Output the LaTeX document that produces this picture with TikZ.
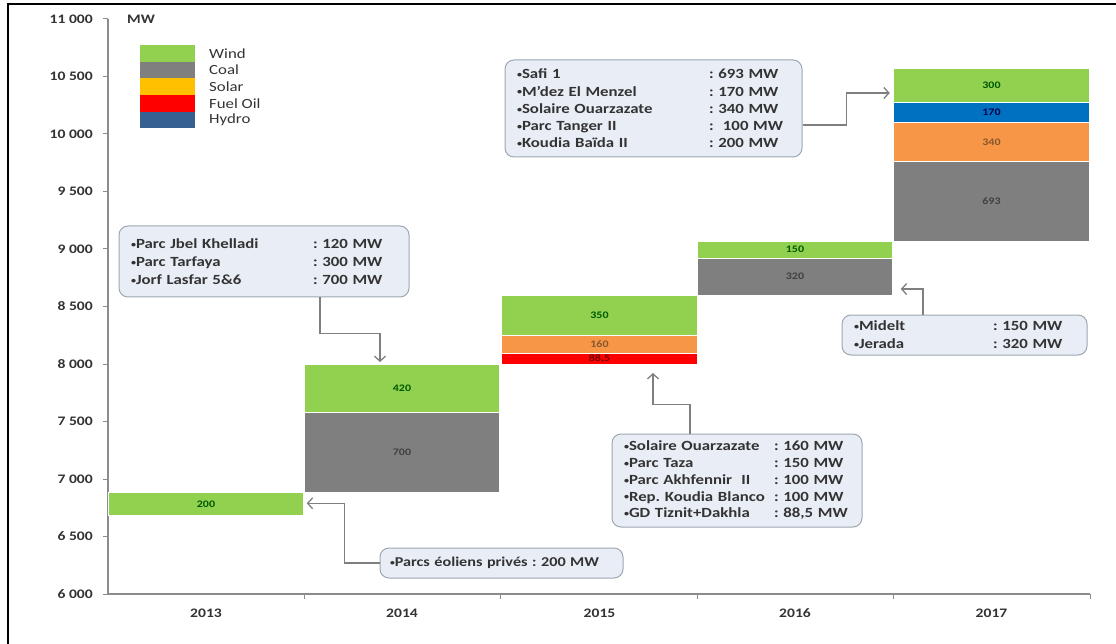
\documentclass[tikz,border=0pt]{standalone}
\usepackage{graphicx}
\usepackage{fontspec}
\setmainfont{Carlito}[FakeStretch=1.2]
\usetikzlibrary{arrows.meta}
\frenchspacing

\definecolor{wind}{HTML}{92D050}
\definecolor{coal}{HTML}{7F7F7F}
\definecolor{solar}{HTML}{FFC000}
\definecolor{solarbar}{HTML}{F79646}
\definecolor{fueloil}{HTML}{FF0000}
\definecolor{hydro}{HTML}{366092}
\definecolor{hydrobar}{HTML}{0070C0}
\definecolor{boxfill}{HTML}{E9EEF6}
\definecolor{boxline}{HTML}{9DA6B1}
\definecolor{axisgray}{HTML}{8C8C8C}
\definecolor{arrowgray}{HTML}{7F7F7F}
\definecolor{labtext}{HTML}{333333}

\newcommand\bul{\raisebox{0.2ex}{\scalebox{0.6}{\textbullet}}}
\newcommand\plant[3]{\makebox[#1][l]{\bul#2}\mbox{#3}}

\tikzset{
	bar/.style={draw=white, line width=0.8pt, minimum width=195.5pt, inner sep=0pt, outer sep=0pt,
		font=\fontsize{10}{10}\selectfont\bfseries},
	swatch/.style={minimum width=55pt, minimum height=16.6pt, inner sep=0pt, outer sep=0pt},
	legtext/.style={anchor=west, inner sep=0pt, text=labtext, font=\fontsize{14}{14}\selectfont},
	ticklabel/.style={anchor=east, inner sep=0pt, text=labtext, font=\fontsize{13}{13}\selectfont\bfseries},
	callout/.style={draw=boxline, fill=boxfill, line width=1pt, rounded corners=9pt, inner xsep=12pt,
		inner ysep=0pt, align=left, text=labtext},
	callarrow/.style={draw=arrowgray, line width=1.3pt, -{Straight Barb[length=5pt,width=11pt]}},
}

\begin{document}
\begin{tikzpicture}[x=1pt,y=-1pt]
	\useasboundingbox (0,0) rectangle (1116,644);
	
	% Frame and axes
	\draw[line width=1.2pt] (8,644) -- (8,4) -- (1116,4);
	\draw[axisgray, line width=1.2pt] (108,19) -- (108,594) -- (1090,594);
	\foreach \lab [count=\i from 0] in {6 000,6 500,7 000,7 500,8 000,8 500,9 000,9 500,10 000,10 500,11 000} {
		\draw[axisgray, line width=1pt] (103,{594-57.5*\i}) -- (108,{594-57.5*\i});
		\node[ticklabel] (tick\i) at (93,{594-57.5*\i}) {\lab};
	}
	\foreach \x in {304,500,697,893,1090}
		\draw[axisgray, line width=1pt] (\x,594) -- (\x,599);
	\node[ticklabel, anchor=west] (unit) at (127,19) {MW};
	
	% Years
	\node[ticklabel, anchor=center] (yr13) at (206,613) {2013};
	\node[ticklabel, anchor=center] (yr14) at (402,613) {2014};
	\node[ticklabel, anchor=center] (yr15) at (599.5,613) {2015};
	\node[ticklabel, anchor=center] (yr16) at (795,613) {2016};
	\node[ticklabel, anchor=center] (yr17) at (991.5,613) {2017};
	
	% Bars
	\node[bar, fill=wind, text=green!35!black, minimum height=23pt] (b13w) at (206,504.3) {200};
	\node[bar, fill=coal, text=black!75, minimum height=80.5pt] (b14c) at (402,452.5) {700};
	\node[bar, fill=wind, text=green!35!black, minimum height=48.3pt] (b14w) at (402,388.2) {420};
	\node[bar, fill=fueloil, text=red!45!black, minimum height=10.2pt] (b15f) at (599.5,358.9) {88,5};
	\node[bar, fill=solarbar, text=brown!70!black, minimum height=18.4pt] (b15s) at (599.5,344.6) {160};
	\node[bar, fill=wind, text=green!35!black, minimum height=40.2pt] (b15w) at (599.5,315.3) {350};
	\node[bar, fill=coal, text=black!75, minimum height=36.8pt] (b16c) at (795,276.6) {320};
	\node[bar, fill=wind, text=green!35!black, minimum height=17.2pt] (b16w) at (795,249.6) {150};
	\node[bar, fill=coal, text=black!75, minimum height=79.7pt] (b17c) at (991.5,201.2) {693};
	\node[bar, fill=solarbar, text=brown!70!black, minimum height=39.1pt] (b17s) at (991.5,141.8) {340};
	\node[bar, fill=hydrobar, text=blue!30!black, minimum height=19.6pt] (b17h) at (991.5,112.4) {170};
	\node[bar, fill=wind, text=green!35!black, minimum height=34.5pt] (b17w) at (991.5,85.4) {300};
	
	% Legend
	\node[swatch, fill=wind] (lgwind) at (167.5,53.5) {};
	\node[swatch, fill=coal] (lgcoal) at (167.5,70.1) {};
	\node[swatch, fill=solar] (lgsolar) at (167.5,86.7) {};
	\node[swatch, fill=fueloil] (lgfuel) at (167.5,103.3) {};
	\node[swatch, fill=hydro] (lghydro) at (167.5,119.9) {};
	\node[legtext] (txwind) at (209,53.5) {Wind};
	\node[legtext] (txcoal) at (209,70.1) {Coal};
	\node[legtext] (txsolar) at (209,86.7) {Solar};
	\node[legtext] (txfuel) at (209,103.3) {Fuel Oil};
	\node[legtext] (txhydro) at (209,119.9) {Hydro};
	
	% Callouts
	\node[callout, text width=266pt, minimum height=71pt, font=\fontsize{14}{18}\selectfont\bfseries] (box14) at (264,261.5) {%
		\plant{182pt}{Parc Jbel Khelladi}{: 120 MW}\\
		\plant{182pt}{Parc Tarfaya}{: 300 MW}\\
		\plant{182pt}{Jorf Lasfar 5\&6}{: 700 MW}};
	\node[callout, text width=273pt, minimum height=97pt, font=\fontsize{14}{17.25}\selectfont\bfseries] (box17) at (653.5,108.5) {%
		\plant{192pt}{Safi 1}{: 693 MW}\\
		\plant{192pt}{M’dez El Menzel}{: 170 MW}\\
		\plant{192pt}{Solaire Ouarzazate}{: 340 MW}\\
		\plant{192pt}{Parc Tanger II}{:\ \ 100 MW}\\
		\plant{192pt}{Koudia Baïda II}{: 200 MW}};
	\node[callout, text width=226pt, minimum height=93pt, font=\fontsize{14}{16.75}\selectfont\bfseries] (box15) at (737,480.5) {%
		\plant{150pt}{Solaire Ouarzazate}{: 160 MW}\\
		\plant{150pt}{Parc Taza}{: 150 MW}\\
		\plant{150pt}{Parc Akhfennir\ \ II}{: 100 MW}\\
		\plant{150pt}{Rep. Koudia Blanco}{: 100 MW}\\
		\plant{150pt}{GD Tiznit+Dakhla}{: 88,5 MW}};
	\node[callout, text width=221pt, minimum height=40pt, font=\fontsize{14}{18}\selectfont\bfseries] (box16) at (964.5,335) {%
		\plant{139pt}{Midelt}{: 150 MW}\\
		\plant{139pt}{Jerada}{: 320 MW}};
	\node[callout, text width=223pt, minimum height=30pt, inner xsep=10pt, font=\fontsize{13.5}{18}\selectfont\bfseries] (box13) at (501.5,563) {%
		\mbox{\bul Parcs éoliens privés : 200 MW}};
	
	% Arrows from callouts to bars
	\draw[callarrow] ([xshift=56pt]box14.south) -- ++(0,36) -| ([xshift=-22pt,yshift=2pt]b14w.north);
	\draw[callarrow] ([yshift=-16.5pt]box17.east) -- ++(44,0) |- ([xshift=-4pt,yshift=-7.6pt]b17w.west);
	\draw[callarrow] ([xshift=-47pt]box15.north) -- ++(0,-29) -| ([xshift=53.5pt,yshift=-9pt]b15f.south);
	\draw[callarrow] ([xshift=-41.5pt]box16.north) |- ([xshift=8pt,yshift=-12.4pt]b16c.east);
	\draw[callarrow] (box13.west) -- ++(-35,0) |- ([xshift=3pt,yshift=1pt]b13w.east);
	
\end{tikzpicture}
\end{document}
